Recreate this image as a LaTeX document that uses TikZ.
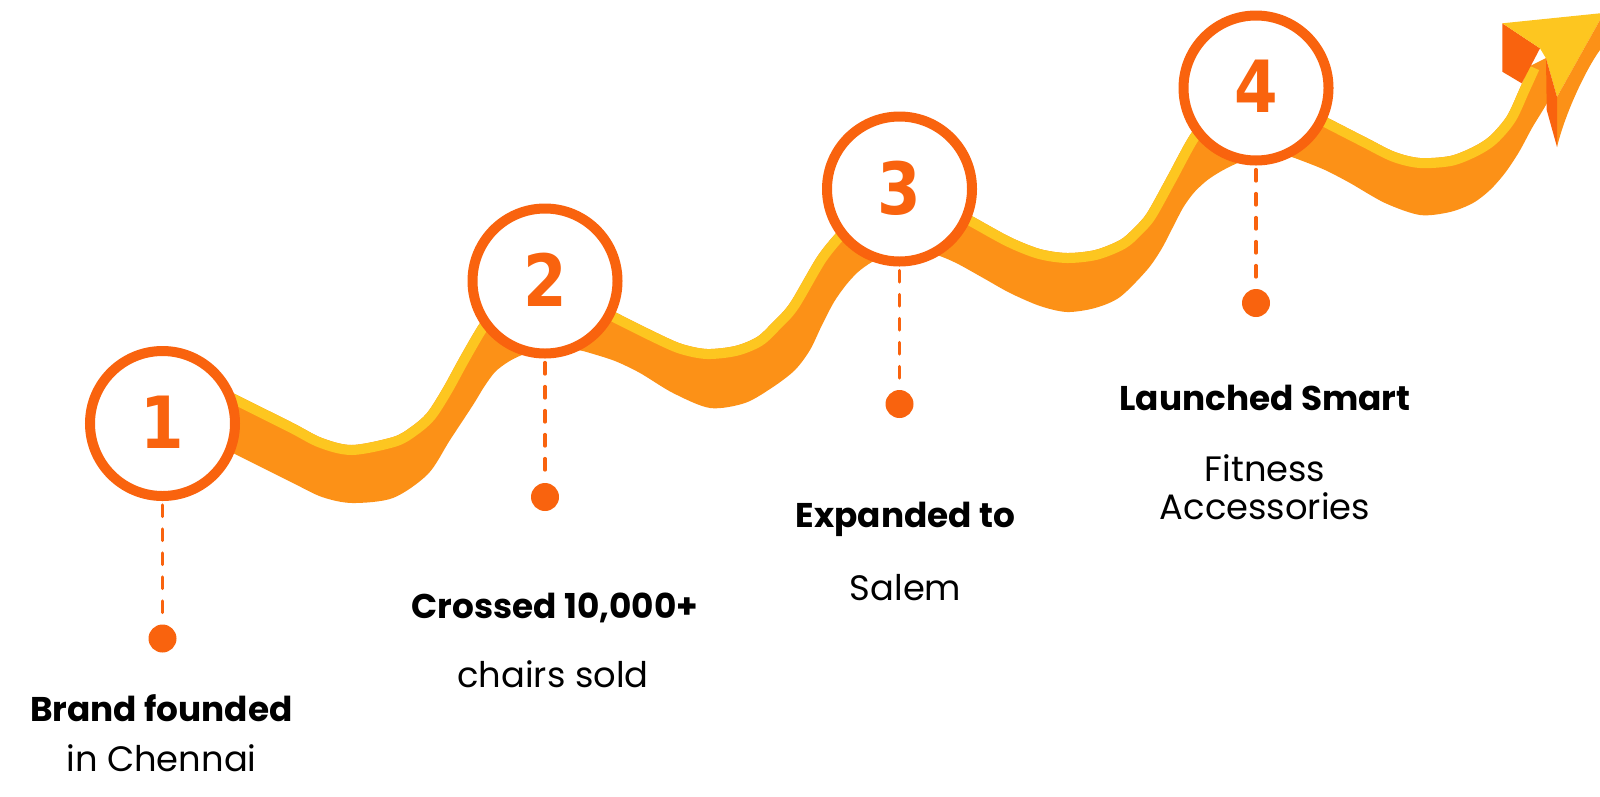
\documentclass[tikz,border=0pt]{standalone}
\usepackage{fontspec}
\setmainfont{Poppins}
\newfontfamily\digitfont{DejaVu Sans}[FakeStretch=0.87]
\definecolor{dorange}{RGB}{249,99,14}
\definecolor{rorange}{RGB}{252,145,23}
\definecolor{ryellow}{RGB}{253,198,32}
\newcommand\ribtop{plot[smooth, tension=0.5] coordinates {(180,366) (233,393) (293,423) (322,438) (352,445) (393,437) (411,427) (427,413) (443,388) (460,357) (480,323) (500,298) (530,285) (565,288) (595,300) (615,312) (657,333) (682,344) (707,349) (735,346) (757,337) (773,322) (790,303) (817,257) (837,232) (858,210) (890,196) (925,198) (950,205) (970,215) (1010,237) (1040,249) (1067,253) (1095,250) (1120,240) (1134,228) (1147,213) (1167,177) (1190,135) (1212,108) (1240,94) (1275,96) (1305,106) (1328,118) (1367,138) (1395,152) (1420,158) (1450,156) (1473,147) (1490,136) (1507,116) (1520,88) (1530,66)}}
\newcommand\ribbonpath{\ribtop -- (1546,58) -- plot[smooth, tension=0.5] coordinates {(1550,98) (1543,110) (1532,128) (1519,152) (1505,173) (1490,190) (1473,203) (1450,212) (1420,215) (1385,203) (1350,183) (1325,170) (1300,160) (1288,156) (1272,154) (1255,156) (1237.5,163) (1221.5,171) (1207.5,180) (1194.5,192) (1183.5,207) (1173,227) (1161.5,249) (1147,270) (1120,297) (1095,308) (1067,312) (1040,306) (1010,293) (985,279) (960,265) (945,258) (930,253) (910,250) (890,254) (872,262) (858,272) (846,285) (834,302) (822,325) (810,350) (795,370) (773,387) (745,403) (710,408) (673,393) (640,373) (615,361) (590,353) (578,350) (560,348) (540,350) (522,355) (508,362) (495,372) (484,387) (473,405) (450,440) (428,474) (393,498) (352,503) (322,497) (293,483) (263,468) (233,453) (180,425)} -- cycle}
\begin{document}
\begin{tikzpicture}[x=1pt,y=-1pt,
  stepcircle/.style={circle, draw=dorange, fill=white, line width=10pt, minimum size=145pt, inner sep=0pt, text=dorange, font=\digitfont\fontsize{72}{76}\selectfont\bfseries},
  dotnode/.style={circle, fill=dorange, minimum size=28pt, inner sep=0pt},
  dashline/.style={draw=dorange, line width=3.2pt, line cap=round, dash pattern=on 11.5pt off 12.5pt},
  headtext/.style={font=\fontsize{34.3}{40}\selectfont\bfseries, anchor=base, text=black},
  bodytext/.style={font=\fontsize{35.3}{40}\selectfont, anchor=base, text=black}]
\useasboundingbox (0,0) rectangle (1600,796);
% ribbon
\fill[rorange] \ribbonpath;
\begin{scope}
\clip \ribbonpath;
\draw[ryellow, line width=20pt] \ribtop;
\end{scope}
% arrow head
\fill[dorange] (1502.3,23.3) -- (1540,48.3) -- (1521.7,83.3) -- (1502.3,71.7) -- cycle;
\fill[ryellow] (1502.3,23.3) -- (1600,13.3) -- (1600,20) -- (1557,97) -- (1546,58.3) -- (1540,48.3) -- cycle;
\fill[rorange] (1600,20) -- (1600,50) .. controls (1588,66) and (1566,110) .. (1557,147) -- (1557,97) -- cycle;
\fill[dorange] (1546,58.3) -- (1557,97) -- (1557,147) -- (1546.7,110) -- cycle;
% circles
\node[stepcircle] (c1) at (162.5,423.5) {\raisebox{2.5pt}{1}};
\node[stepcircle] (c2) at (545,281) {\raisebox{2.5pt}{2}};
\node[stepcircle] (c3) at (899.5,189) {\raisebox{2.5pt}{3}};
\node[stepcircle] (c4) at (1256,88) {\raisebox{2.5pt}{4}};
% dots
\node[dotnode] (d1) at (162.5,638.5) {};
\node[dotnode] (d2) at (545,497) {};
\node[dotnode] (d3) at (899.5,404) {};
\node[dotnode] (d4) at (1256,303) {};
% connectors
\draw[dashline] ([yshift=-4pt]c1.south) -- ([yshift=11pt]d1.north);
\draw[dashline] ([yshift=-4pt]c2.south) -- ([yshift=11pt]d2.north);
\draw[dashline] ([yshift=-4pt]c3.south) -- ([yshift=11pt]d3.north);
\draw[dashline] ([yshift=-4pt]c4.south) -- ([yshift=11pt]d4.north);
% texts
\node[headtext] (t1a) at (161.5,721) {Brand founded};
\node[bodytext] (t1b) at (161.5,771) {in Chennai};
\node[headtext] (t2a) at (555,618) {Crossed 10,000+};
\node[bodytext] (t2b) at (553,687) {chairs sold};
\node[headtext] (t3a) at (905.5,527) {Expanded to};
\node[bodytext] (t3b) at (905.5,600) {Salem};
\node[headtext] (t4a) at (1265,410) {Launched Smart};
\node[bodytext] (t4b) at (1265,481) {Fitness};
\node[bodytext] (t4c) at (1265,519) {Accessories};
\end{tikzpicture}
\end{document}
